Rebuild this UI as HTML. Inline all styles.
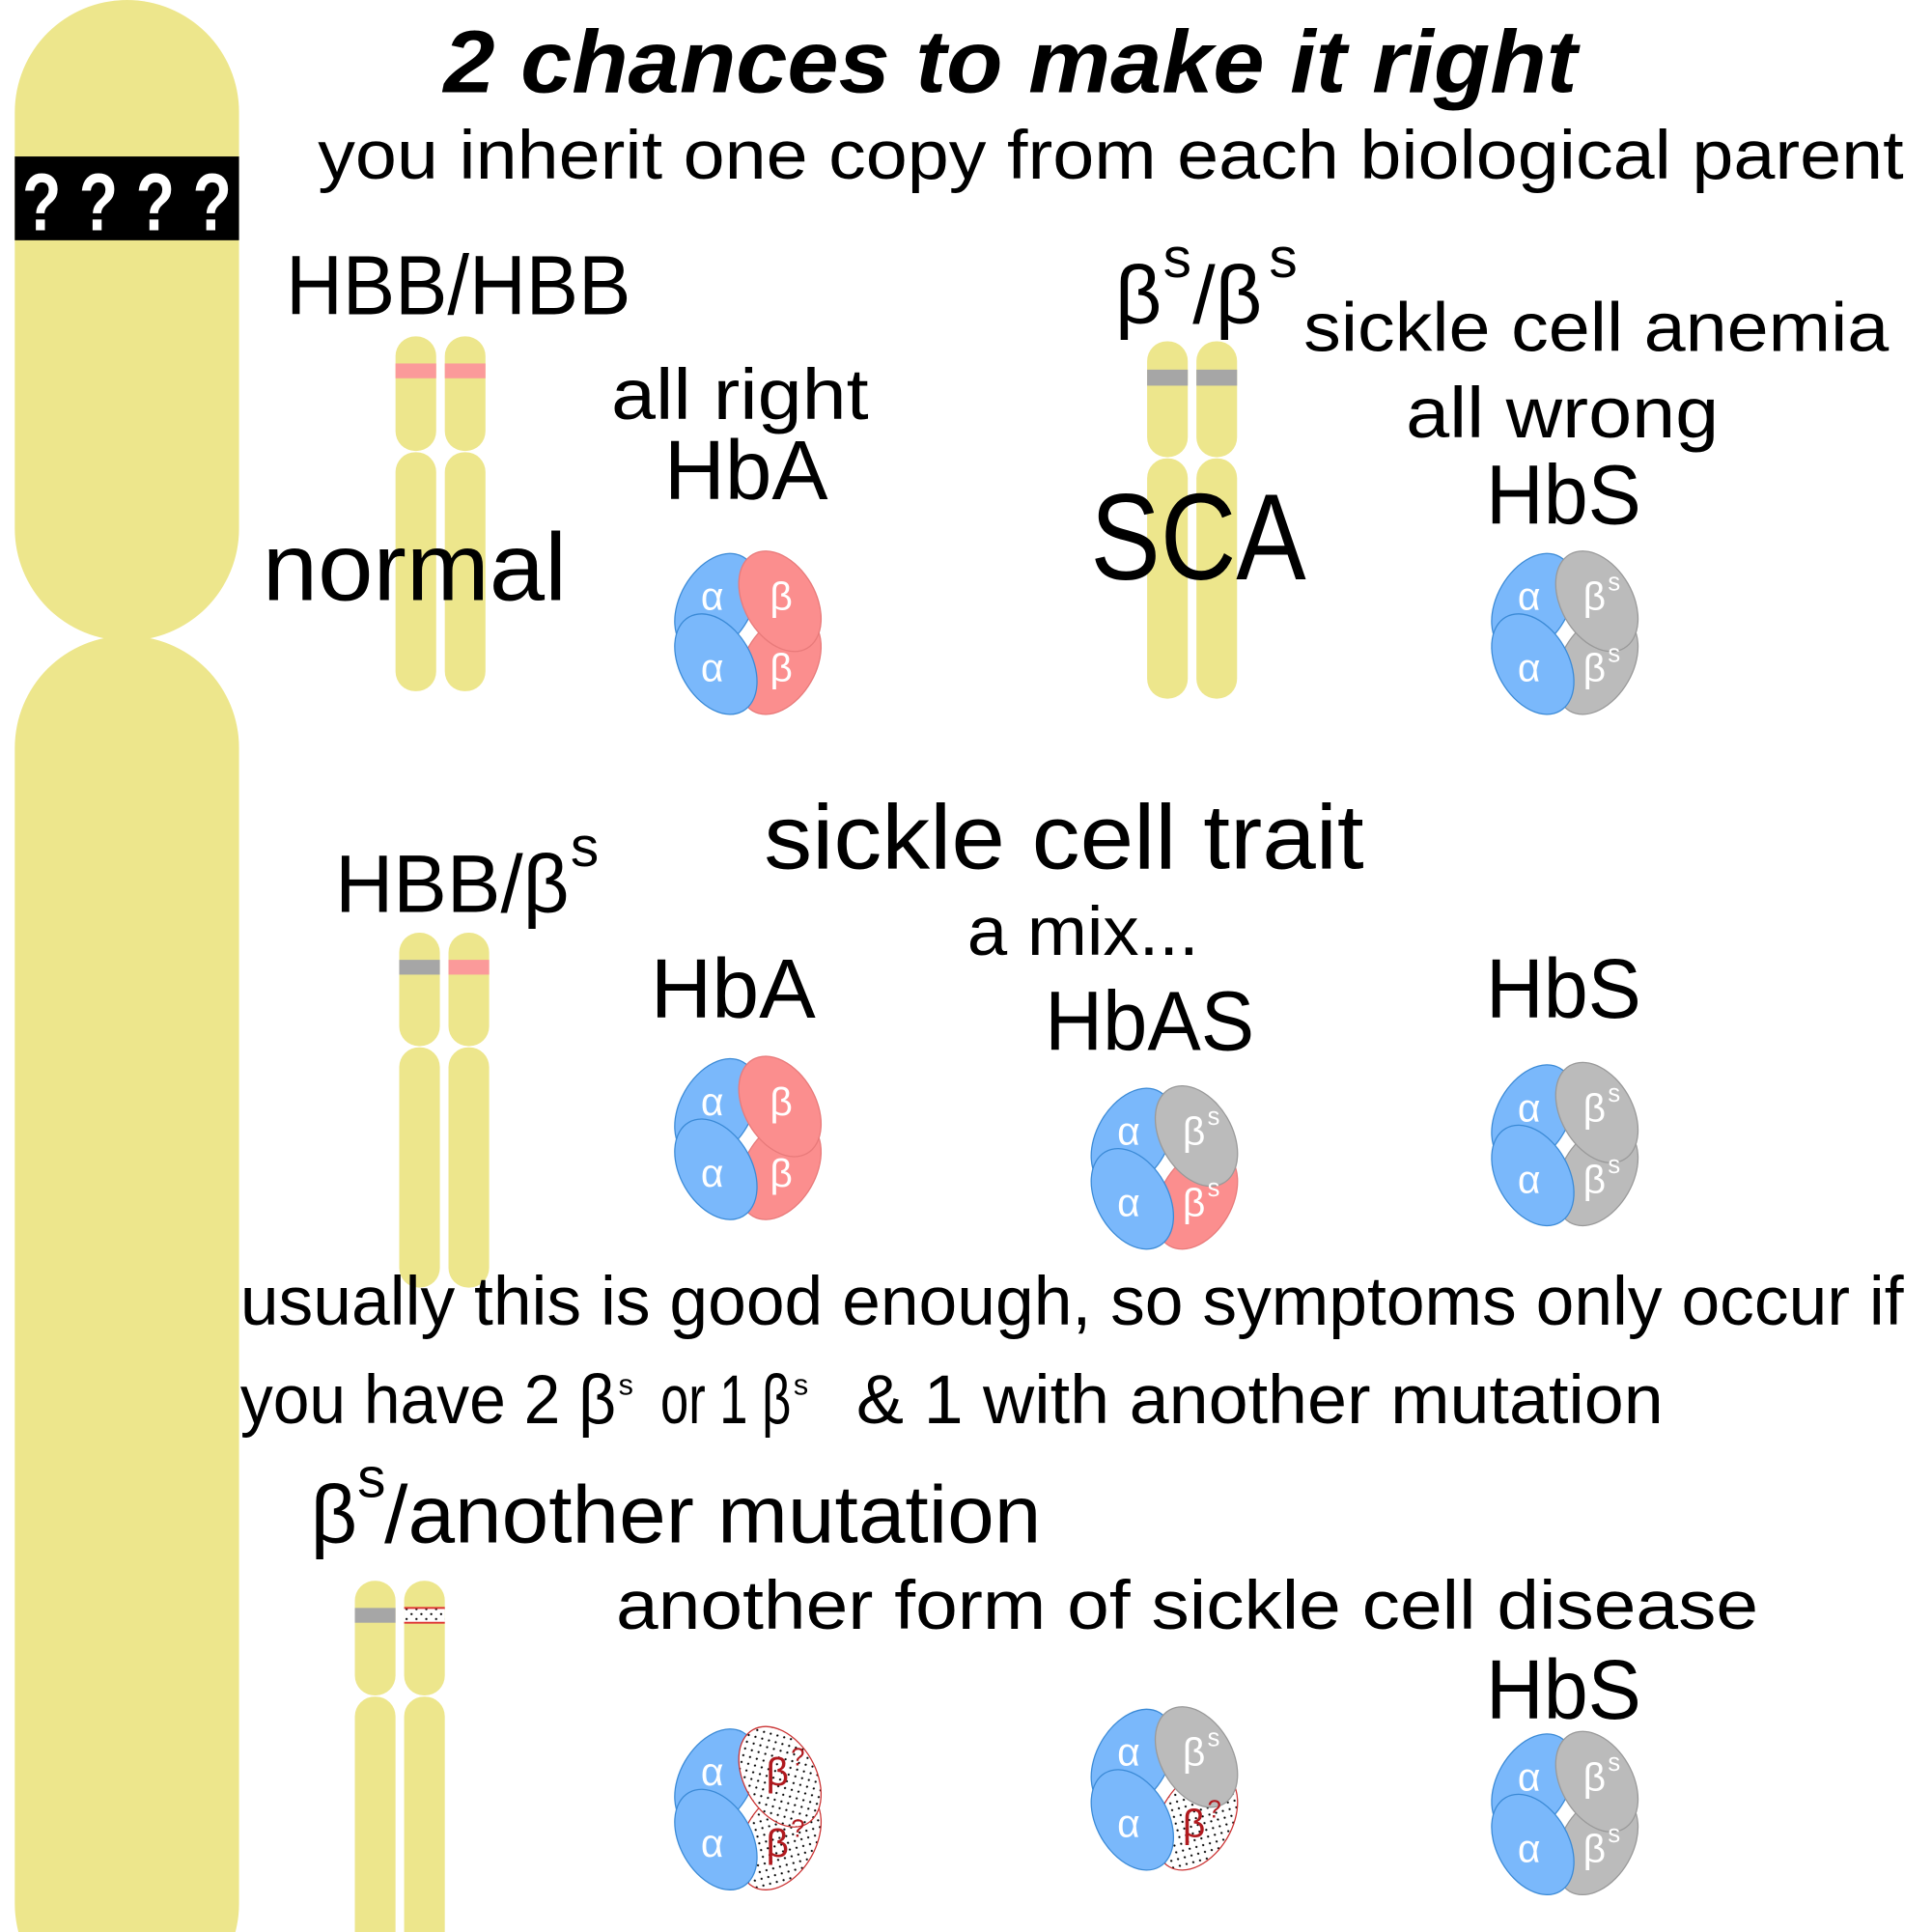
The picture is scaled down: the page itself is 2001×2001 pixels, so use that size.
<!DOCTYPE html>
<html><head><meta charset="utf-8"><style>
html,body{margin:0;padding:0;background:#fff;}
svg{display:block;}
text{font-family:"Liberation Sans",sans-serif;}
</style></head><body>
<svg width="2001" height="2001" viewBox="0 0 1568 1568" xmlns="http://www.w3.org/2000/svg">
<defs>
<pattern id="dots" width="8" height="8" patternUnits="userSpaceOnUse">
<rect width="8" height="8" fill="#fff"/><circle cx="2" cy="2" r="0.9" fill="#000"/><circle cx="6" cy="6" r="0.9" fill="#000"/>
</pattern>
</defs>

<g>
<rect x="12" y="0" width="182" height="520" rx="91" fill="#ede68c"/>
<rect x="12" y="516" width="182" height="1120" rx="91" fill="#ede68c"/>
<rect x="12" y="127" width="182" height="68" fill="#000"/>
<text x="103" y="187" text-anchor="middle" font-size="66" font-weight="bold" fill="#fff" textLength="170" lengthAdjust="spacingAndGlyphs">? ? ? ?</text>
</g>

<text x="360" y="75" font-size="72" font-weight="bold" font-style="italic" textLength="920" lengthAdjust="spacingAndGlyphs">2 chances to make it right</text>
<text x="258" y="145" font-size="56" textLength="1287" lengthAdjust="spacingAndGlyphs">you inherit one copy from each biological parent</text>

<g>
<rect x="321" y="273" width="33" height="93" rx="16" fill="#ede68c"/><rect x="321" y="367" width="33" height="194" rx="16" fill="#ede68c"/>
<rect x="361" y="273" width="33" height="93" rx="16" fill="#ede68c"/><rect x="361" y="367" width="33" height="194" rx="16" fill="#ede68c"/>
<rect x="321" y="295" width="33" height="12" fill="#fb9a9a"/><rect x="361" y="295" width="33" height="12" fill="#fb9a9a"/>
</g>
<g>
<rect x="931" y="277" width="33" height="94" rx="16" fill="#ede68c"/><rect x="931" y="372" width="33" height="195" rx="16" fill="#ede68c"/>
<rect x="971" y="277" width="33" height="94" rx="16" fill="#ede68c"/><rect x="971" y="372" width="33" height="195" rx="16" fill="#ede68c"/>
<rect x="931" y="300" width="33" height="13" fill="#a6a6a6"/><rect x="971" y="300" width="33" height="13" fill="#a6a6a6"/>
</g>
<g>
<rect x="324" y="757" width="33" height="92" rx="16" fill="#ede68c"/><rect x="324" y="850" width="33" height="195" rx="16" fill="#ede68c"/>
<rect x="364" y="757" width="33" height="92" rx="16" fill="#ede68c"/><rect x="364" y="850" width="33" height="195" rx="16" fill="#ede68c"/>
<rect x="324" y="779" width="33" height="12" fill="#a6a6a6"/><rect x="364" y="779" width="33" height="12" fill="#fb9a9a"/>
</g>
<g>
<rect x="288" y="1283" width="33" height="93" rx="16" fill="#ede68c"/><rect x="288" y="1377" width="33" height="220" rx="16" fill="#ede68c"/>
<rect x="328" y="1283" width="33" height="93" rx="16" fill="#ede68c"/><rect x="328" y="1377" width="33" height="220" rx="16" fill="#ede68c"/>
<rect x="288" y="1305" width="33" height="12" fill="#a6a6a6"/>
<rect x="328" y="1305" width="33" height="12" fill="url(#dots)"/>
<line x1="328" y1="1305" x2="361" y2="1305" stroke="#d33" stroke-width="1.5"/><line x1="328" y1="1317" x2="361" y2="1317" stroke="#d33" stroke-width="1.5"/>
</g>

<text x="232" y="255" font-size="68" textLength="280" lengthAdjust="spacingAndGlyphs">HBB/HBB</text>
<text x="496" y="340" font-size="58" textLength="209" lengthAdjust="spacingAndGlyphs">all right</text>
<text x="539" y="405" font-size="68" textLength="133" lengthAdjust="spacingAndGlyphs">HbA</text>
<text x="213" y="487" font-size="78" textLength="247" lengthAdjust="spacingAndGlyphs">normal</text>
<g>
<text x="905" y="262" font-size="66">β</text><text x="944" y="225" font-size="46">s</text>
<text x="968" y="262" font-size="66">/β</text><text x="1030" y="225" font-size="46">s</text>
</g>
<text x="1058" y="285" font-size="56" textLength="475" lengthAdjust="spacingAndGlyphs">sickle cell anemia</text>
<text x="1141" y="355" font-size="58" textLength="254" lengthAdjust="spacingAndGlyphs">all wrong</text>
<text x="1206" y="425" font-size="68" textLength="126" lengthAdjust="spacingAndGlyphs">HbS</text>
<text x="885" y="470" font-size="100" textLength="175" lengthAdjust="spacingAndGlyphs">SCA</text>
<text x="620" y="705" font-size="74" textLength="487" lengthAdjust="spacingAndGlyphs">sickle cell trait</text>
<text x="785" y="775" font-size="56" textLength="188" lengthAdjust="spacingAndGlyphs">a mix...</text>
<g>
<text x="272" y="740" font-size="66" textLength="190" lengthAdjust="spacingAndGlyphs">HBB/β</text><text x="463" y="703" font-size="46">s</text>
</g>
<text x="528" y="826" font-size="68" textLength="134" lengthAdjust="spacingAndGlyphs">HbA</text>
<text x="848" y="852" font-size="68" textLength="170" lengthAdjust="spacingAndGlyphs">HbAS</text>
<text x="1206" y="826" font-size="68" textLength="126" lengthAdjust="spacingAndGlyphs">HbS</text>
<text x="195" y="1075" font-size="56" textLength="1350" lengthAdjust="spacingAndGlyphs">usually this is good enough, so symptoms only occur if</text>
<g>
<text x="195" y="1155" font-size="56" textLength="305" lengthAdjust="spacingAndGlyphs">you have 2 β</text><text x="502" y="1132" font-size="24">s</text>
<text x="536" y="1155" font-size="56" textLength="106" lengthAdjust="spacingAndGlyphs">or 1 β</text><text x="644" y="1132" font-size="24">s</text>
<text x="695" y="1155" font-size="56" textLength="655" lengthAdjust="spacingAndGlyphs">&amp; 1 with another mutation</text>
</g>
<g>
<text x="252" y="1252" font-size="66">β</text><text x="290" y="1215" font-size="46">s</text>
<text x="312" y="1252" font-size="66" textLength="533" lengthAdjust="spacingAndGlyphs">/another mutation</text>
</g>
<text x="500" y="1322" font-size="56" textLength="927" lengthAdjust="spacingAndGlyphs">another form of sickle cell disease</text>
<text x="1206" y="1395" font-size="68" textLength="126" lengthAdjust="spacingAndGlyphs">HbS</text>

<g id="icons"></g>
</svg>
<script>
const iconX = [606, 1269, 606, 944, 1269, 606, 944, 1269];
const iconY = [512, 512, 922, 946, 927, 1466, 1450, 1470];
const topBeta = ['A','S','A','S','S','X','S','S'];
const botBeta = ['A','S','A','P','S','X','X','S'];
const NS='http://www.w3.org/2000/svg';
const root=document.getElementById('icons');
const looks={A:['#fb8e8e','#e87a7a','β','','#ffffff'],P:['#fb8e8e','#e87a7a','β','s','#ffffff'],S:['#bbbbbb','#999999','β','s','#ffffff'],X:['url(#dots)','#cc3333','β','?','#b0191e']};
function el(t,a){const e=document.createElementNS(NS,t);for(const k in a)e.setAttribute(k,a[k]);return e;}
function ell(g,dx,dy,rot,fill,stroke){
  g.appendChild(el('ellipse',{cx:dx,cy:dy,rx:29,ry:44,fill:fill,stroke:stroke,'stroke-width':1,transform:'rotate('+rot+' '+dx+' '+dy+')'}));
}
function lab(g,dx,dy,txt,sup,tc){
  const t=el('text',{x:dx-(sup?3:0),y:dy+11,'font-size':32,'text-anchor':'middle'});
  t.style.fill=tc;t.textContent=txt;g.appendChild(t);
  if(sup){const s=el('text',{x:dx+8,y:dy-5,'font-size':20});s.style.fill=tc;s.textContent=sup;g.appendChild(s);}
}
for(let i=0;i<iconX.length;i++){
  const g=el('g',{transform:'translate('+iconX[i]+' '+iconY[i]+')'});
  
  
  const b=looks[botBeta[i]],t=looks[topBeta[i]];
  ell(g,27,27,30,b[0],b[1]);
  ell(g,-25,-22,30,'#7ab8fb','#3b8ad6');
  ell(g,27,-24,-30,t[0],t[1]);
  ell(g,-25,27,-30,'#7ab8fb','#3b8ad6');
  lab(g,-28,-28,'α','','#ffffff');
  lab(g,-28,30,'α','','#ffffff');
  lab(g,28,-28,t[2],t[3],t[4]);
  lab(g,28,30,b[2],b[3],b[4]);
  root.appendChild(g);
}
</script>
</body></html>
